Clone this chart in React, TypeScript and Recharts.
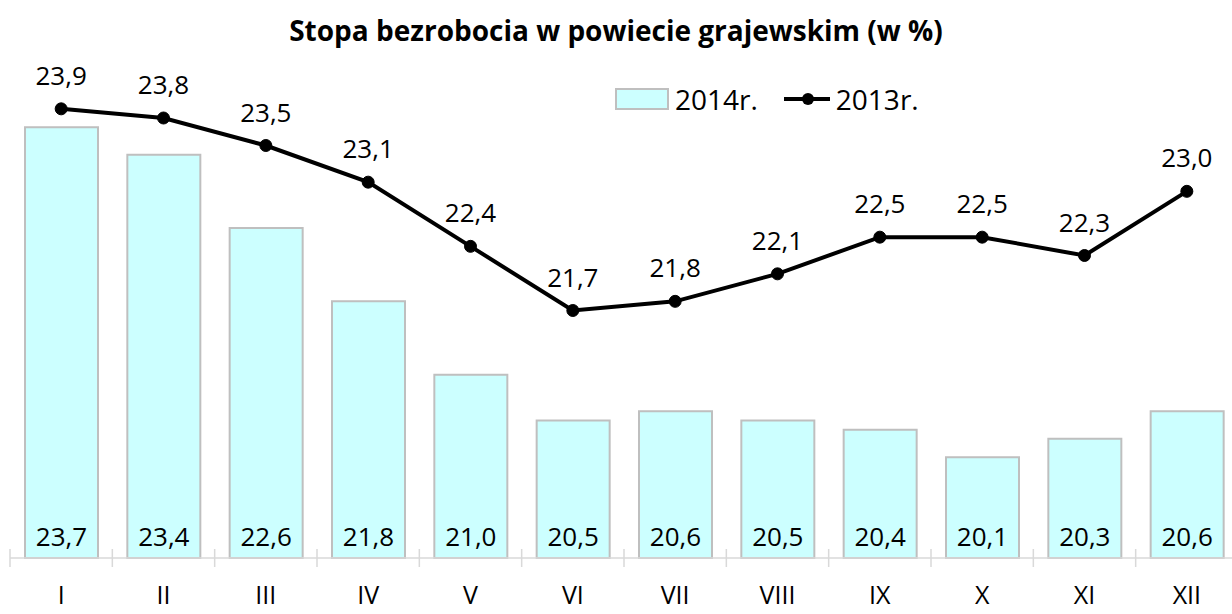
import { ComposedChart, Bar, Line, XAxis, YAxis, LabelList } from 'recharts'

const months = ['I', 'II', 'III', 'IV', 'V', 'VI', 'VII', 'VIII', 'IX', 'X', 'XI', 'XII']
const rate2014 = [23.7, 23.4, 22.6, 21.8, 21.0, 20.5, 20.6, 20.5, 20.4, 20.1, 20.3, 20.6]
const rate2013 = [23.9, 23.8, 23.5, 23.1, 22.4, 21.7, 21.8, 22.1, 22.5, 22.5, 22.3, 23.0]

const data = months.map((m, i) => ({ month: m, y2014: rate2014[i], y2013: rate2013[i] }))

const W = 1240
const H = 614
const LEFT = 10
const RIGHT = 2
const FONT = '"Open Sans", sans-serif'
const band = (W - LEFT - RIGHT) / months.length

const fmt = (v: any) => Number(v).toFixed(1).replace('.', ',')

function MonthTick(props: any) {
  const { x, y, payload, index } = props
  const left = x - band / 2
  const axisY = y - 8
  return (
    <g>
      <line x1={left} x2={left} y1={axisY - 9} y2={axisY + 9} stroke="#D9D9D9" strokeWidth={1.5} />
      {index === months.length - 1 && (
        <line x1={left + band} x2={left + band} y1={axisY - 9} y2={axisY + 9} stroke="#D9D9D9" strokeWidth={1.5} />
      )}
      <text x={x} y={axisY + 46} textAnchor="middle" fontSize={25} fontFamily={FONT} fill="#000">
        {payload.value}
      </text>
    </g>
  )
}

function ChartLegend() {
  return (
    <div style={{ position: 'absolute', left: 615, top: 82, display: 'flex', alignItems: 'center', fontFamily: FONT, fontSize: 28, lineHeight: '34px' }}>
      <svg width={54} height={24}>
        <rect x={1} y={2} width={52} height={20} fill="#CCFFFF" stroke="#BFBFBF" strokeWidth={2} />
      </svg>
      <span style={{ marginLeft: 6 }}>2014r.</span>
      <svg width={50} height={24} style={{ marginLeft: 24 }}>
        <line x1={2} x2={48} y1={12} y2={12} stroke="#000" strokeWidth={4} />
        <circle cx={26} cy={12} r={6} fill="#000" />
      </svg>
      <span style={{ marginLeft: 4 }}>2013r.</span>
    </div>
  )
}

export default function App() {
  return (
    <div style={{ position: 'absolute', left: 0, top: 0, width: 1232, height: H, overflow: 'hidden', background: '#fff' }}>
      <div
        style={{
          position: 'absolute', left: 0, top: 12, width: 1232, textAlign: 'center',
          fontFamily: FONT, fontWeight: 'bold', fontSize: 28, lineHeight: '36px',
        }}
      >
        Stopa bezrobocia w powiecie grajewskim (w %)
      </div>
      <ComposedChart width={W} height={H} data={data} margin={{ top: 8, right: RIGHT, bottom: 0, left: LEFT }}>
        <XAxis
          dataKey="month"
          height={56}
          axisLine={{ stroke: '#D9D9D9', strokeWidth: 1.5 }}
          tickLine={false}
          tick={<MonthTick />}
          interval={0}
        />
        <YAxis hide domain={[19, 25]} />
        <Bar dataKey="y2014" barSize={73} fill="#CCFFFF" stroke="#BFBFBF" strokeWidth={2} isAnimationActive={false}>
          <LabelList dataKey="y2014" position="insideBottom" offset={12} formatter={fmt}
            style={{ fontSize: 26, fontFamily: FONT, fill: '#000' }} />
        </Bar>
        <Line dataKey="y2013" stroke="#000" strokeWidth={4} dot={{ r: 6, fill: '#000', stroke: '#000', strokeWidth: 1 }}
          activeDot={false} isAnimationActive={false}>
          <LabelList dataKey="y2013" position="top" offset={24} formatter={fmt}
            style={{ fontSize: 26, fontFamily: FONT, fill: '#000' }} />
        </Line>
      </ComposedChart>
      <ChartLegend />
    </div>
  )
}
